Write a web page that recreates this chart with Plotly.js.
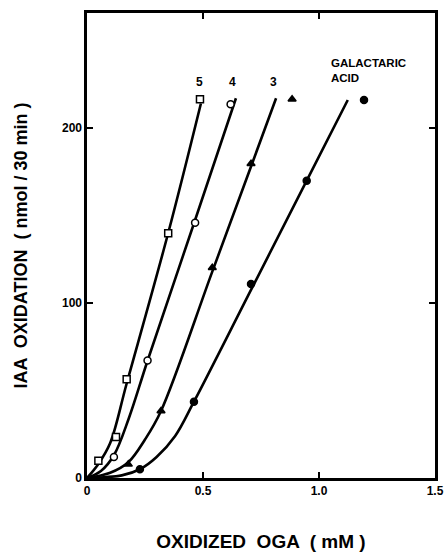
<!DOCTYPE html>
<html>
<head>
<meta charset="utf-8">
<script src="https://cdn.plot.ly/plotly-3.0.1.min.js"></script>
<style>html,body{margin:0;padding:0;background:#fff;}#chart{width:445px;height:552px;}</style>
</head>
<body>
<div id="chart"></div>
<script>
// Series labels
const seriesNames = ["5", "4", "3", "GALACTARIC<br>ACID"];
const symbols = ["square-open", "circle-open", "triangle-up", "circle"];

const x5 = [0.049, 0.125, 0.171, 0.350];
const y5 = [9.9, 23.4, 56.4, 139.8];
const x4 = [0.116, 0.261, 0.466];
const y4 = [12.0, 67.2, 145.9];
const x3 = [0.178, 0.319, 0.540, 0.707];
const y3 = [7.8, 38.3, 120.2, 179.6];
const xGA = [0.228, 0.461, 0.707, 0.947];
const yGA = [5.0, 43.6, 110.9, 169.9];

// Fitted curves
const cx5 = [0, 0.049, 0.10, 0.171, 0.350, 0.491];
const cy5 = [0, 8, 20, 54, 140, 214];
const cx4 = [0, 0.06, 0.116, 0.18, 0.261, 0.466, 0.642];
const cy4 = [0, 4, 13, 34, 67, 147.4, 217];
const cx3 = [0, 0.10, 0.178, 0.25, 0.319, 0.540, 0.707, 0.815];
const cy3 = [0, 3, 9, 22, 38.3, 117.9, 178, 217];
const cxGA = [0, 0.15, 0.228, 0.30, 0.38, 0.461, 0.707, 0.947, 1.124];
const cyGA = [0, 1.5, 5, 12, 24, 43.6, 107.5, 169.9, 216];

// Key markers at top of curves and label positions
const keyX = [0.487, 0.619, 0.884, 1.194];
const keyY = [216.4, 213.5, 216.4, 216];
const labelX = [0.487, 0.629, 0.806, 1.045];
const labelY = [226.5, 226.5, 226.5, 233];

const xTicks = [0, 0.5, 1.0, 1.5];
const xTickText = ["0", "0.5", "1.0", "1.5"];
const yTicks = [0, 100, 200];
const yTickText = ["0", "100", "200"];

const curves = [[cx5, cy5], [cx4, cy4], [cx3, cy3], [cxGA, cyGA]];
const pts = [[x5, y5], [x4, y4], [x3, y3], [xGA, yGA]];

const solid = s => s.replace("-open", "");
const fill = s => s.includes("open") ? "#fff" : "#000";

const traces = [];
curves.forEach(c => traces.push({
  x: c[0], y: c[1], mode: "lines", type: "scatter",
  line: {color: "#000", width: 2.6, shape: "spline", smoothing: 1.0},
  hoverinfo: "skip", showlegend: false
}));
pts.forEach((p, i) => traces.push({
  x: p[0], y: p[1], mode: "markers", type: "scatter",
  marker: {symbol: solid(symbols[i]), size: 7, color: fill(symbols[i]),
           line: {color: "#000", width: 1.5}},
  showlegend: false
}));
traces.push({
  x: keyX, y: keyY, mode: "markers", type: "scatter", cliponaxis: false,
  marker: {symbol: symbols.map(solid), size: 7, color: symbols.map(fill),
           line: {color: "#000", width: 1.5}},
  showlegend: false
});

const FONT = "Liberation Sans, Arial, sans-serif";
const annotations = seriesNames.map((n, i) => ({
  x: labelX[i], y: labelY[i], xref: "x", yref: "y", text: "<b>" + n + "</b>",
  showarrow: false, xanchor: i === 3 ? "left" : "center", align: "left",
  font: {family: FONT, size: i === 3 ? 11.5 : 12, color: "#000"}
}));

const axisCommon = {
  showgrid: false, zeroline: false, showline: true, linecolor: "#000", linewidth: 2.6,
  mirror: "ticks", ticks: "inside", ticklen: 6, tickwidth: 2, tickcolor: "#000",
  tickfont: {family: FONT, size: 12, color: "#000", weight: "bold"}
};

const layout = {
  width: 445, height: 552,
  margin: {l: 87, r: 10, t: 13, b: 74},
  paper_bgcolor: "#fff", plot_bgcolor: "#fff",
  showlegend: false,
  xaxis: Object.assign({}, axisCommon, {
    range: [0, 1.5], tickvals: xTicks, ticktext: xTickText,
    title: {text: "OXIDIZED  OGA  ( mM )", standoff: 40,
            font: {family: FONT, size: 19, color: "#000", weight: "bold"}}
  }),
  yaxis: Object.assign({}, axisCommon, {
    range: [0, 265.7], tickvals: yTicks, ticktext: yTickText,
    title: {text: "IAA  OXIDATION  ( nmol / 30 min )", standoff: 30,
            font: {family: FONT, size: 18, color: "#000", weight: "bold"}}
  }),
  annotations: annotations
};

Plotly.newPlot("chart", traces, layout, {displayModeBar: false, staticPlot: true});
</script>
</body>
</html>
